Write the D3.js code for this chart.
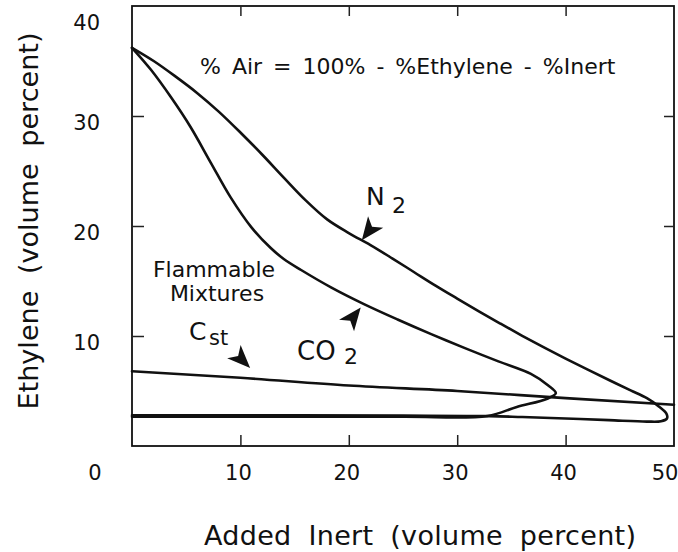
<!DOCTYPE html>
<html><head><meta charset="utf-8">
<script src="https://cdn.jsdelivr.net/npm/d3@7"></script>
<style>
body{margin:0;background:#fff}
svg{display:block}
text{font-family:"DejaVu Sans",sans-serif;fill:#111}
</style>
</head><body>
<svg id="c" width="678" height="552"></svg>
<script>
// ---- data (volume percent) ----
// N2 flammability envelope: upper limit left->right, nose, lower limit right->left
const n2Inert    = [0, 2, 4, 6, 8, 10, 12, 14, 16, 18, 20, 22, 24, 26, 28, 30, 32, 34, 36, 38, 40, 42, 44, 46, 47.5, 48.6, 49.3, 49.35, 48.8, 47.5, 44, 40, 36, 33, 25, 15, 0];
const n2Ethylene = [36.2, 35.0, 33.6, 32.1, 30.4, 28.5, 26.5, 24.4, 22.35, 20.6, 19.36, 18.26, 17.06, 15.82, 14.58, 13.4, 12.24, 11.12, 10.02, 8.96, 7.94, 6.96, 6.0, 5.06, 4.35, 3.6, 2.95, 2.5, 2.25, 2.22, 2.35, 2.5, 2.63, 2.72, 2.76, 2.78, 2.8];
// CO2 flammability envelope
const co2Inert    = [0, 1.75, 3.6, 5.4, 7.3, 9.1, 11.0, 12.8, 14.0, 15.6, 18.4, 21.4, 24.5, 27.6, 30.6, 33.8, 36.8, 38.4, 39.1, 38.3, 35.5, 32.8, 25, 10, 0];
const co2Ethylene = [36.2, 34.2, 31.7, 29.0, 25.7, 22.6, 19.9, 18.0, 17.0, 16.0, 14.4, 12.9, 11.5, 10.17, 8.94, 7.69, 6.55, 5.5, 4.8, 4.3, 3.55, 2.73, 2.66, 2.66, 2.66];
// stoichiometric line
const cstInert    = [0, 10, 20, 30, 40, 50];
const cstEthylene = [6.8, 6.2, 5.5, 5.0, 4.35, 3.75];
// axis ticks
const xTickValues = [10, 20, 30, 40, 50];
const yTickValues = [10, 20, 30, 40];
const xTopTicks = [10, 20, 30, 40];
const yRightTicks = [10, 20, 30];
const originLabel = "0";

const svg = d3.select("#c");
const x = d3.scaleLinear().domain([0, 50]).range([132, 674]);
const y = d3.scaleLinear().domain([0, 40]).range([446, 6]);

// frame
svg.append("rect")
  .attr("x", x(0)).attr("y", y(40))
  .attr("width", x(50) - x(0)).attr("height", y(0) - y(40))
  .attr("fill", "none").attr("stroke", "#111").attr("stroke-width", 1.8);

function styleAxis(g, fs) {
  g.select(".domain").remove();
  g.selectAll(".tick line").attr("stroke", "#222").attr("stroke-width", 1.5);
  g.selectAll("text").attr("font-family", "DejaVu Sans, sans-serif").attr("font-size", fs).attr("fill", "#111");
}

// left axis
const gl = svg.append("g").attr("transform", `translate(${x(0)},0)`)
  .call(d3.axisLeft(y).tickValues(yTickValues).tickSize(-12).tickPadding(32).tickFormat(d3.format("d")));
styleAxis(gl, 21);
gl.selectAll(".tick text").attr("dy", d => d === 40 ? "1.12em" : "0.64em");
gl.selectAll(".tick line").filter(d => d === 40).remove();

// bottom axis
const gb = svg.append("g").attr("transform", `translate(0,${y(0)})`)
  .call(d3.axisBottom(x).tickValues(xTickValues).tickSize(-11).tickPadding(19).tickFormat(d3.format("d")));
styleAxis(gb, 21);
gb.selectAll(".tick text").attr("dx", d => d === 50 ? "-0.45em" : "-0.12em");
gb.selectAll(".tick line").filter(d => d === 50).remove();

// top axis (ticks only)
const gt = svg.append("g").attr("transform", `translate(0,${y(40)})`)
  .call(d3.axisTop(x).tickValues(xTopTicks).tickSize(-10).tickFormat(""));
styleAxis(gt, 21);

// right axis (ticks only)
const gr = svg.append("g").attr("transform", `translate(${x(50)},0)`)
  .call(d3.axisRight(y).tickValues(yRightTicks).tickSize(-10).tickFormat(""));
styleAxis(gr, 21);

// origin label
svg.append("text").attr("x", 95).attr("y", 480).attr("text-anchor", "middle")
  .attr("font-size", 21).text(originLabel);

// curves
const line = d3.line().x(d => x(d[0])).y(d => y(d[1])).curve(d3.curveCatmullRom.alpha(0.5));
const lineStraight = d3.line().x(d => x(d[0])).y(d => y(d[1])).curve(d3.curveMonotoneX);

const series = [
  {inert: cstInert, eth: cstEthylene, gen: lineStraight},
  {inert: co2Inert, eth: co2Ethylene, gen: line},
  {inert: n2Inert, eth: n2Ethylene, gen: line}
];
series.forEach(s => {
  const pts = s.inert.map((v, i) => [v, s.eth[i]]);
  svg.append("path").attr("d", s.gen(pts))
    .attr("fill", "none").attr("stroke", "#111").attr("stroke-width", 2.6)
    .attr("stroke-linejoin", "round").attr("stroke-linecap", "round");
});

// arrowheads (tip in data units, direction in degrees)
const arrowShape = "M0,0 L-23,-9.5 L-17,0 L-23,9.5 Z";
[
  {ix: 21.2, ey: 18.7, ang: 127},
  {ix: 21.1, ey: 12.6, ang: -52},
  {ix: 10.9, ey: 7.1, ang: 45}
].forEach(a => {
  svg.append("path").attr("d", arrowShape).attr("fill", "#111")
    .attr("transform", `translate(${x(a.ix)},${y(a.ey)}) rotate(${a.ang})`);
});

// annotation texts
function txt(str, px, py, fs, anchor) {
  return svg.append("text").attr("x", px).attr("y", py).attr("font-size", fs)
    .attr("text-anchor", anchor || "start").text(str);
}
txt("% Air = 100% - %Ethylene - %Inert", 200, 74, 22).attr("word-spacing", 4);
txt("N", 366, 205, 25);
txt("2", 392, 213, 22);
const fm = svg.append("text").attr("font-size", 22).attr("text-anchor", "middle");
fm.append("tspan").attr("x", 214).attr("y", 277).text("Flammable");
fm.append("tspan").attr("x", 217).attr("y", 301).text("Mixtures");
txt("C", 189, 340, 25);
txt("st", 209, 345, 21);
txt("CO", 297, 360, 26);
txt("2", 344, 364, 22);

// axis titles
svg.append("text").attr("x", 420).attr("y", 545).attr("text-anchor", "middle")
  .attr("font-size", 27).attr("textLength", 432).attr("lengthAdjust", "spacing")
  .attr("word-spacing", 8)
  .text("Added Inert (volume percent)");
svg.append("text").attr("transform", "translate(38,221) rotate(-90)")
  .attr("text-anchor", "middle").attr("font-size", 27)
  .attr("textLength", 377).attr("lengthAdjust", "spacing").attr("word-spacing", 8)
  .text("Ethylene (volume percent)");
</script>
</body></html>
